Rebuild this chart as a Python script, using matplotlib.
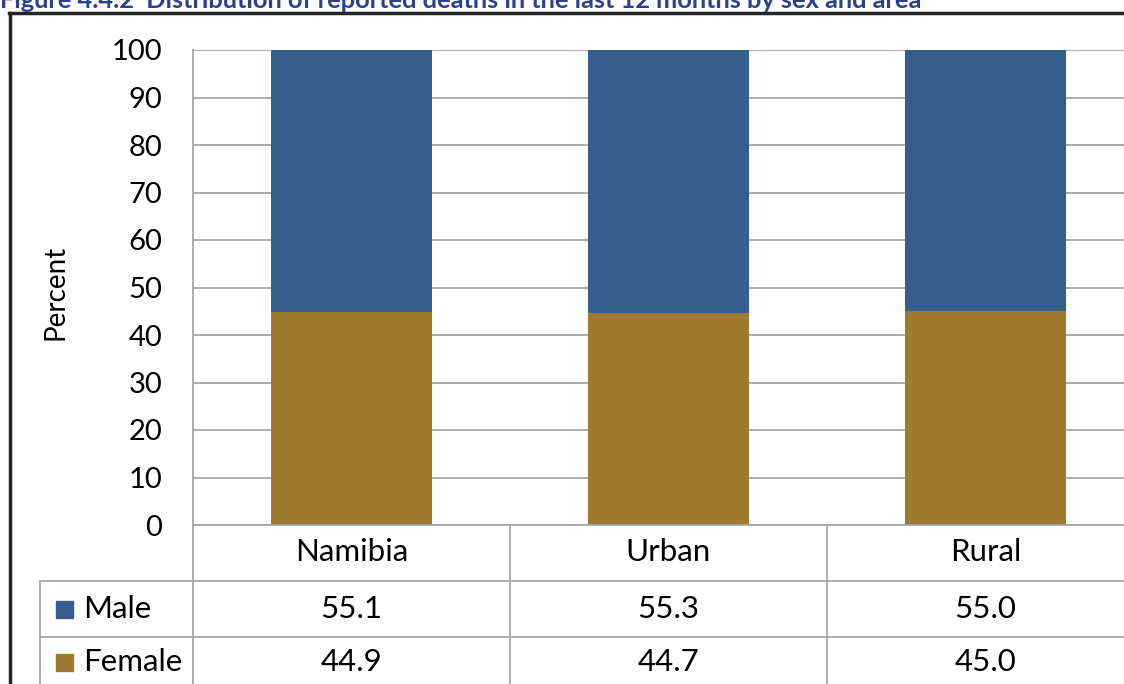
import matplotlib.pyplot as plt
from matplotlib.lines import Line2D
from matplotlib.patches import Rectangle

# data
areas = ["Namibia", "Urban", "Rural"]
male = [55.1, 55.3, 55.0]
female = [44.9, 44.7, 45.0]
yticks = [0, 10, 20, 30, 40, 50, 60, 70, 80, 90, 100]

blue = "#365E8D"
gold = "#A07B2F"
grid = "#A6A6A6"

W, H = 1124, 684
plt.rcParams['font.family'] = ['Lato', 'DejaVu Sans']

fig = plt.figure(figsize=(W / 100, H / 100), dpi=100)


def px(x, y):
    # pixel position -> figure fraction
    return x / W, 1 - y / H


def hline(x0, x1, y, color=grid, lw=1.3):
    fig.add_artist(Line2D([x0 / W, x1 / W], [1 - y / H, 1 - y / H], color=color, lw=lw))


def vline(x, y0, y1, color=grid, lw=1.3):
    fig.add_artist(Line2D([x / W, x / W], [1 - y0 / H, 1 - y1 / H], color=color, lw=lw))


# plot area: x 193..1144 px, y 50..525 px
left, right, top, bottom = 193, 1144, 50, 525
ax = fig.add_axes([left / W, 1 - bottom / H, (right - left) / W, (bottom - top) / H])
x = range(len(areas))
ax.bar(x, female, width=0.51, color=gold, zorder=3)
ax.bar(x, male, width=0.51, bottom=female, color=blue, zorder=3)
ax.set_xlim(-0.5, len(areas) - 0.5)
ax.set_ylim(0, 100)
ax.set_yticks(yticks)
ax.set_yticklabels([str(t) for t in yticks], fontsize=21)
ax.tick_params(axis='y', length=0, pad=22)
ax.set_xticks([])
ax.yaxis.grid(True, color=grid, lw=1.3, zorder=0)
for s in ["top", "right", "bottom"]:
    ax.spines[s].set_visible(False)
ax.spines["left"].set_color(grid)
ax.spines["left"].set_linewidth(1.3)
ax.set_ylabel("Percent", fontsize=20)
ax.yaxis.set_label_coords(-0.131, 0.49)

# data table under the chart
cols = [193, 510, 827, 1144]
rows = [525, 581, 637, 693]
hline(193, 1144, rows[0])
hline(40, 1144, rows[1])
hline(40, 1144, rows[2])
for c in cols:
    vline(c, rows[0], rows[3])
vline(40, rows[1], rows[3])

fs = 22.5
for i, a in enumerate(areas):
    cx = (cols[i] + cols[i + 1]) / 2
    fig.text(*px(cx, 552), a, fontsize=fs, ha='center', va='center')
    fig.text(*px(cx, 609), f"{male[i]:.1f}", fontsize=fs, ha='center', va='center')
    fig.text(*px(cx, 662), f"{female[i]:.1f}", fontsize=fs, ha='center', va='center')

for name, col, cy in [("Male", blue, 609), ("Female", gold, 662)]:
    fig.add_artist(Rectangle(px(56, cy + 9), 17 / W, 17 / H, color=col))
    fig.text(*px(83, cy), name, fontsize=fs, ha='left', va='center')

# outer frame
hline(9, 1124, 13, color="#262626", lw=2.5)
vline(10, 13, 684, color="#262626", lw=2.5)

# title, cut at the top edge as in the source
fig.text(*px(0, 1), "Figure 4.4.2  Distribution of reported deaths in the last 12 months by sex and area",
         fontsize=18.3, fontweight='bold', color="#2B3F94", ha='left', va='center')

fig.savefig("out.png", dpi=100)
